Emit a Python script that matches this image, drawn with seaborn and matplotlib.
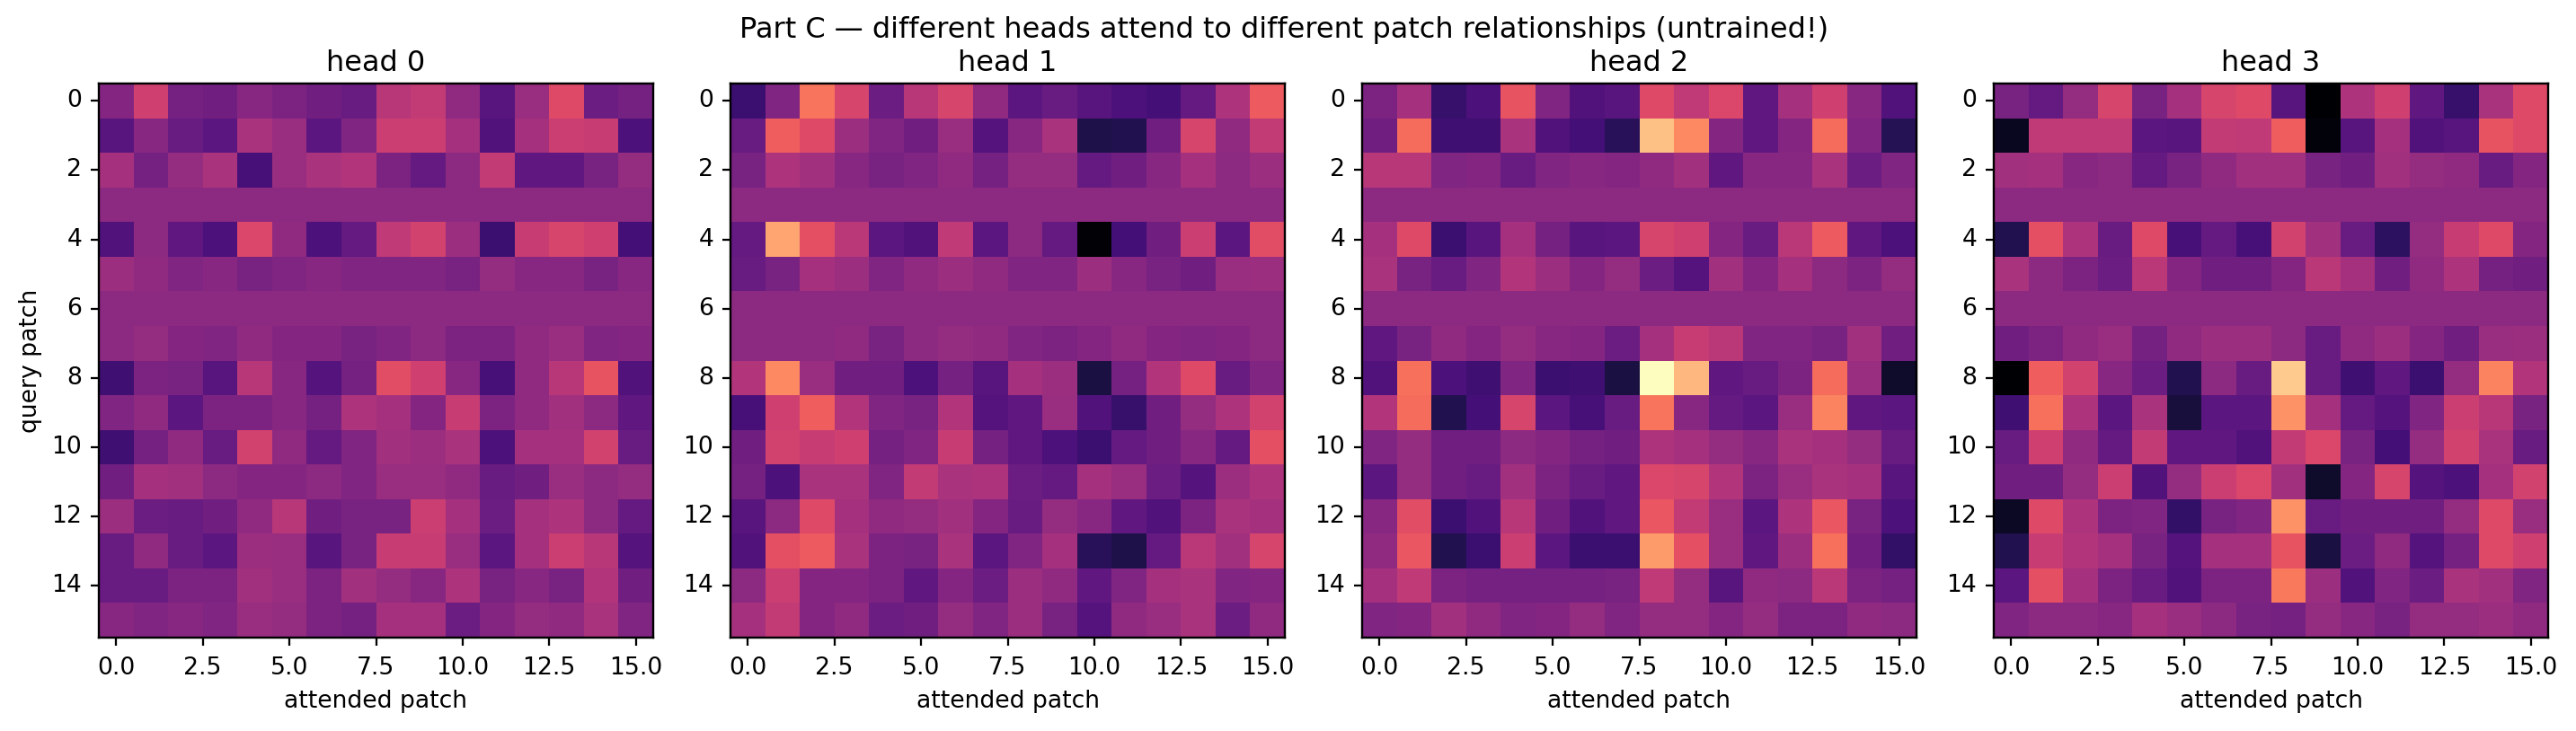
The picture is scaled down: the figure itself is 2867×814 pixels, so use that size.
import matplotlib
matplotlib.use('Agg')
import matplotlib.pyplot as plt
import seaborn as sns
import numpy as np

# values, as position along the magma colormap (0-100)
head_0 = [
    [38, 56, 34, 33, 39, 36, 33, 31, 50, 53, 41, 27, 43, 60, 32, 34],
    [27, 39, 31, 28, 47, 43, 28, 37, 55, 55, 46, 25, 46, 55, 54, 24],
    [46, 34, 42, 47, 23, 43, 47, 49, 36, 30, 40, 53, 29, 29, 35, 42],
    [40, 40, 40, 40, 40, 40, 40, 40, 40, 40, 40, 40, 40, 40, 40, 40],
    [25, 40, 29, 24, 59, 41, 24, 30, 52, 57, 44, 20, 54, 58, 56, 22],
    [44, 41, 37, 39, 35, 37, 39, 37, 37, 37, 35, 42, 39, 39, 35, 39],
    [40, 40, 40, 40, 40, 40, 40, 40, 40, 40, 40, 40, 40, 40, 40, 40],
    [40, 42, 38, 37, 41, 38, 38, 35, 37, 40, 36, 36, 41, 43, 37, 38],
    [21, 36, 35, 27, 50, 39, 26, 34, 61, 56, 39, 23, 41, 50, 63, 25],
    [37, 41, 28, 36, 36, 39, 34, 48, 46, 38, 54, 36, 41, 45, 40, 29],
    [21, 34, 41, 31, 57, 41, 30, 37, 45, 44, 47, 24, 46, 46, 57, 31],
    [33, 46, 45, 40, 38, 38, 40, 37, 43, 43, 41, 31, 33, 43, 40, 42],
    [44, 32, 31, 33, 41, 50, 33, 35, 35, 55, 46, 32, 46, 48, 40, 30],
    [31, 41, 31, 28, 44, 43, 27, 35, 54, 54, 43, 28, 46, 55, 50, 26],
    [31, 31, 36, 36, 45, 43, 36, 45, 42, 39, 48, 35, 39, 35, 49, 33],
    [39, 37, 39, 37, 43, 42, 36, 34, 46, 46, 32, 38, 42, 41, 47, 37],
]
head_1 = [
    [20, 37, 71, 58, 32, 50, 58, 41, 28, 31, 27, 24, 22, 30, 48, 65],
    [31, 66, 60, 44, 37, 33, 43, 26, 39, 47, 13, 14, 33, 58, 41, 53],
    [35, 48, 45, 39, 35, 37, 41, 34, 42, 42, 30, 33, 39, 46, 40, 44],
    [40, 40, 40, 40, 40, 40, 40, 40, 40, 40, 40, 40, 40, 40, 40, 40],
    [30, 81, 62, 51, 28, 25, 52, 28, 40, 30, 1, 22, 33, 55, 28, 61],
    [31, 35, 46, 44, 37, 41, 44, 41, 37, 37, 44, 39, 35, 33, 43, 44],
    [40, 40, 40, 40, 40, 40, 40, 40, 40, 40, 40, 40, 40, 40, 40, 40],
    [40, 40, 40, 41, 35, 40, 42, 41, 37, 36, 38, 41, 38, 37, 38, 40],
    [49, 75, 43, 33, 33, 24, 34, 27, 46, 44, 12, 34, 49, 60, 31, 37],
    [23, 56, 66, 49, 37, 35, 49, 26, 29, 43, 25, 19, 33, 42, 48, 57],
    [33, 57, 54, 56, 34, 37, 54, 34, 29, 24, 20, 30, 33, 39, 30, 62],
    [34, 24, 47, 47, 37, 53, 47, 48, 32, 30, 46, 43, 32, 26, 44, 48],
    [27, 40, 60, 46, 41, 42, 45, 38, 31, 42, 39, 29, 25, 36, 47, 46],
    [25, 62, 65, 47, 36, 35, 47, 28, 37, 46, 16, 13, 30, 51, 45, 58],
    [40, 55, 38, 38, 36, 29, 38, 32, 44, 41, 29, 37, 46, 47, 37, 38],
    [46, 53, 38, 41, 32, 33, 42, 37, 44, 35, 26, 41, 43, 47, 32, 41],
]
head_2 = [
    [36, 46, 19, 24, 63, 37, 25, 27, 60, 52, 59, 29, 46, 56, 39, 25],
    [33, 69, 21, 21, 47, 25, 22, 16, 87, 75, 38, 29, 38, 69, 37, 15],
    [50, 50, 37, 38, 31, 37, 39, 38, 41, 45, 29, 39, 39, 47, 32, 37],
    [40, 40, 40, 40, 40, 40, 40, 40, 40, 40, 40, 40, 40, 40, 40, 40],
    [46, 60, 20, 27, 46, 34, 27, 28, 58, 56, 38, 31, 51, 65, 29, 24],
    [47, 35, 31, 37, 49, 44, 38, 42, 32, 26, 45, 38, 46, 40, 36, 42],
    [40, 40, 40, 40, 40, 40, 40, 40, 40, 40, 40, 40, 40, 40, 40, 40],
    [29, 35, 41, 38, 42, 39, 38, 32, 46, 54, 51, 37, 37, 35, 45, 33],
    [25, 70, 24, 21, 37, 20, 21, 12, 100, 85, 29, 31, 36, 69, 43, 8],
    [49, 69, 14, 22, 58, 28, 23, 31, 71, 39, 30, 28, 43, 74, 29, 28],
    [37, 42, 33, 33, 40, 38, 34, 33, 48, 46, 42, 39, 47, 46, 42, 31],
    [28, 42, 33, 31, 45, 36, 31, 29, 59, 58, 49, 36, 43, 47, 46, 27],
    [39, 61, 20, 25, 50, 33, 25, 29, 64, 53, 43, 28, 48, 64, 35, 24],
    [41, 64, 14, 20, 55, 28, 20, 20, 79, 62, 43, 29, 44, 70, 33, 18],
    [46, 52, 36, 34, 34, 34, 34, 35, 52, 42, 27, 41, 40, 51, 36, 34],
    [37, 38, 45, 41, 37, 38, 42, 37, 42, 42, 38, 42, 36, 36, 41, 40],
]
head_3 = [
    [35, 30, 42, 58, 35, 46, 58, 60, 27, 0, 48, 56, 29, 19, 47, 60],
    [6, 52, 52, 52, 28, 27, 53, 52, 66, 2, 27, 46, 25, 27, 63, 60],
    [45, 46, 39, 40, 30, 35, 41, 45, 45, 35, 33, 45, 42, 41, 31, 38],
    [40, 40, 40, 40, 40, 40, 40, 40, 40, 40, 40, 40, 40, 40, 40, 40],
    [14, 62, 48, 31, 60, 23, 30, 23, 57, 45, 31, 17, 42, 54, 60, 38],
    [47, 40, 36, 32, 51, 38, 33, 33, 38, 51, 46, 33, 41, 48, 34, 33],
    [40, 40, 40, 40, 40, 40, 40, 40, 40, 40, 40, 40, 40, 40, 40, 40],
    [33, 36, 41, 43, 34, 41, 44, 44, 40, 31, 41, 44, 38, 33, 43, 44],
    [0, 66, 57, 39, 32, 14, 40, 31, 89, 31, 21, 29, 20, 42, 74, 49],
    [21, 70, 48, 28, 47, 11, 28, 28, 77, 46, 30, 26, 37, 55, 50, 35],
    [31, 56, 41, 30, 53, 29, 29, 25, 53, 59, 35, 22, 42, 57, 47, 31],
    [33, 33, 42, 55, 25, 42, 55, 59, 45, 8, 38, 58, 26, 24, 46, 57],
    [7, 60, 48, 36, 37, 18, 35, 37, 77, 31, 33, 33, 33, 42, 60, 43],
    [14, 54, 49, 46, 35, 26, 46, 46, 63, 12, 32, 41, 26, 34, 60, 56],
    [28, 62, 46, 36, 31, 25, 36, 36, 72, 44, 25, 37, 32, 47, 45, 37],
    [37, 40, 40, 39, 46, 43, 40, 35, 34, 42, 39, 35, 42, 42, 44, 41],
]
heads = [head_0, head_1, head_2, head_3]
head_names = ['head 0', 'head 1', 'head 2', 'head 3']
x_ticks = [0, 2.5, 5, 7.5, 10, 12.5, 15]
x_tick_labels = ['0.0', '2.5', '5.0', '7.5', '10.0', '12.5', '15.0']
y_ticks = [0, 2, 4, 6, 8, 10, 12, 14]

W, H = 2867, 814
DPI = 192
fig = plt.figure(figsize=(W / DPI, H / DPI), dpi=DPI)

# panel edges in pixels
lefts = [110, 813, 1516, 2219]
panel_w = 617
panel_top = 93
panel_h = 617

for i, (values, name) in enumerate(zip(heads, head_names)):
    ax = fig.add_axes([lefts[i] / W, 1 - (panel_top + panel_h) / H, panel_w / W, panel_h / H])
    sns.heatmap(np.array(values), cmap='magma', vmin=0, vmax=100, cbar=False, square=True, ax=ax)
    # heatmap cells are centred on +0.5
    ax.set_xticks([t + 0.5 for t in x_ticks])
    ax.set_xticklabels(x_tick_labels, rotation=0)
    ax.set_yticks([t + 0.5 for t in y_ticks])
    ax.set_yticklabels(y_ticks, rotation=0)
    ax.tick_params(length=3.5, width=0.85)
    ax.tick_params(axis='x', pad=4.5)
    for s in ax.spines.values():
        s.set_visible(True)
        s.set_linewidth(0.9)
    ax.set_title(name, fontsize=12, pad=5.4)
    ax.set_xlabel('attended patch', fontsize=10)
    if i == 0:
        ax.set_ylabel('query patch', fontsize=10)

fig.suptitle('Part C — different heads attend to different patch relationships (untrained!)',
             fontsize=12, x=0.4985, y=0.978)

fig.savefig('out.png', dpi=DPI)
